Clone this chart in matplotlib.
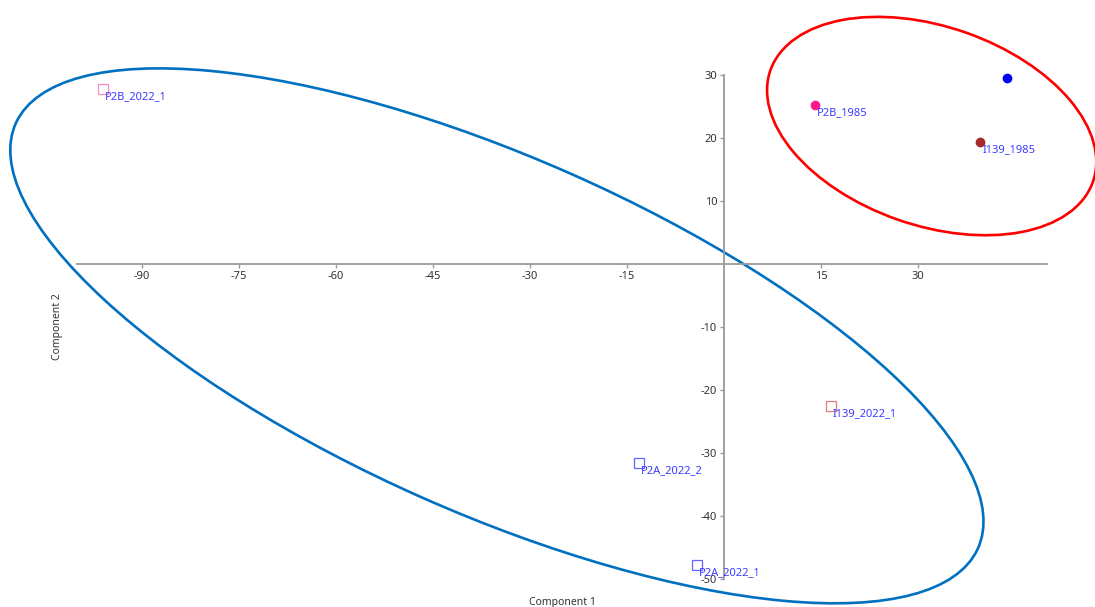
import matplotlib
matplotlib.use('Agg')
import matplotlib.pyplot as plt
from matplotlib.patches import Ellipse

# sample scores on the first two components
labels = ['P2B_2022_1', 'P2B_1985', '', 'I139_1985', 'I139_2022_1', 'P2A_2022_2', 'P2A_2022_1']
pc1 = [-96.0, 14.0, 43.8, 39.6, 16.5, -13.2, -4.2]
pc2 = [27.8, 25.3, 29.6, 19.4, -22.5, -31.6, -47.8]
marker = ['s', 'o', 'o', 'o', 's', 's', 's']
color = ['#f08cc8', '#ff1a8c', '#0000ff', '#a52a2a', '#d98080', '#6666ff', '#6666ff']

# group ellipses: center x, center y, width, height, angle
ell_2022 = (-35.1, -11.4, 163.3, 56.3, -24.5)
ell_1985 = (32.1, 21.9, 52.9, 31.5, -19.9)

x_ticks = [-90, -75, -60, -45, -30, -15, 15, 30]
y_ticks = [-50, -40, -30, -20, -10, 10, 20, 30]

plt.rcParams['font.family'] = ['Noto Sans', 'DejaVu Sans']

fig = plt.figure(figsize=(10.95, 6.07), dpi=100)
ax = fig.add_axes([0.0703, 0.0461, 0.8863, 0.8303])
ax.set_xlim(-100, 50)
ax.set_ylim(-50, 30)

for side in ['top', 'right']:
    ax.spines[side].set_visible(False)
ax.spines['left'].set_position(('data', 0))
ax.spines['bottom'].set_position(('data', 0))
for side in ['left', 'bottom']:
    ax.spines[side].set_color('#9a9a9a')
    ax.spines[side].set_linewidth(1.3)

ax.set_xticks(x_ticks)
ax.set_yticks(y_ticks)
ax.set_xticklabels([str(t) for t in x_ticks])
ax.set_yticklabels([str(t) for t in y_ticks])
ax.tick_params(axis='both', colors='#9a9a9a', labelcolor='#333333', labelsize=8,
               length=3, width=1, direction='out', pad=2)

for x, y, m, c in zip(pc1, pc2, marker, color):
    if m == 's':
        ax.plot(x, y, m, ms=6.5, mfc='none', mec=c, mew=0.9, clip_on=False, zorder=3)
    else:
        ax.plot(x, y, m, ms=6, color=c, clip_on=False, zorder=3)

for x, y, lab in zip(pc1, pc2, labels):
    if lab:
        ax.annotate(lab, (x, y), xytext=(1.5, -1.5), textcoords='offset points',
                    ha='left', va='top', fontsize=8, color='#3b3bff', zorder=4)

for (cx, cy, w, h, a), ec in [(ell_2022, '#0070c0'), (ell_1985, '#ff0000')]:
    ax.add_patch(Ellipse((cx, cy), w, h, angle=a, fill=False, edgecolor=ec,
                         linewidth=1.9, clip_on=False, zorder=2))

ax.text(0.5, -0.046, 'Component 1', transform=ax.transAxes, ha='center', va='center',
        fontsize=7.5, color='#333333')
ax.text(-0.0196, 0.5, 'Component 2', transform=ax.transAxes, ha='center', va='center',
        rotation=90, fontsize=7.5, color='#333333')

fig.savefig('out.png', dpi=100)
